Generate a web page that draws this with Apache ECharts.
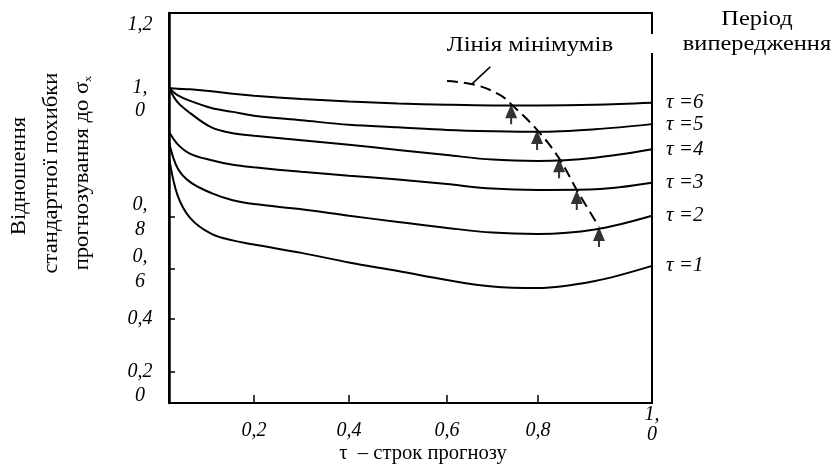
<!DOCTYPE html>
<html>
<head>
<meta charset="utf-8">
<script src="https://cdn.jsdelivr.net/npm/echarts@6/dist/echarts.min.js"></script>
<style>
  html, body { margin: 0; padding: 0; background: #fff; }
  #chart { width: 834px; height: 470px; }
</style>
</head>
<body>
<div id="chart"></div>
<script>
// forecast horizon (x) and the ratio of forecast std error to sigma_x for each lead period
const tau = [0, 0.02, 0.05, 0.1, 0.15, 0.2, 0.3, 0.4, 0.5, 0.6, 0.7, 0.8, 0.9, 1.0];
const lead1 = [0.892, 0.834, 0.796, 0.735, 0.710, 0.694, 0.662, 0.625, 0.592, 0.556, 0.530, 0.524, 0.552, 0.612];
const lead2 = [0.916, 0.876, 0.854, 0.837, 0.826, 0.820, 0.812, 0.802, 0.781, 0.758, 0.740, 0.735, 0.752, 0.802];
const lead3 = [0.932, 0.913, 0.898, 0.888, 0.881, 0.877, 0.870, 0.864, 0.858, 0.851, 0.844, 0.842, 0.843, 0.853];
const lead4 = [1.000, 0.978, 0.961, 0.939, 0.930, 0.926, 0.919, 0.912, 0.904, 0.896, 0.889, 0.887, 0.892, 0.905];
const lead5 = [1.000, 0.989, 0.980, 0.969, 0.963, 0.957, 0.950, 0.943, 0.939, 0.935, 0.933, 0.932, 0.936, 0.944];
const lead6 = [1.000, 0.999, 0.998, 0.995, 0.991, 0.988, 0.983, 0.979, 0.976, 0.974, 0.973, 0.973, 0.974, 0.977];
const leadNames = ['τ =1', 'τ =2', 'τ =3', 'τ =4', 'τ =5', 'τ =6'];

// minima of the curves (arrows) and the dashed "line of minima"
const minX = [0.741, 0.798, 0.837, 0.868, 0.907];
const minY = [0.975, 0.935, 0.891, 0.842, 0.762];
const minLineX = [0.600, 0.662, 0.717, 0.741, 0.798, 0.837, 0.868, 0.907];
const minLineY = [1.022, 1.010, 0.989, 0.975, 0.935, 0.891, 0.842, 0.762];
const leaderX = [0.655, 0.695];
const leaderY = [1.013, 1.067];

const xTicks = [0, 0.2, 0.4, 0.6, 0.8, 1.0];
const xTickLabels = ['', '0,2', '0,4', '0,6', '0,8', '1,\n0'];
const yTicks = [0, 0.2, 0.4, 0.6, 0.8, 1.0, 1.2];
const yTickLabels = ['0', '0,2', '0,4', '0,\n6', '0,\n8', '1,\n0', '1,2'];

// the original figure's axes are not uniform: where each tick sits (px from plot origin)
const plotW = 483, plotH = 390;
const xScaleKnots = [0, 85, 180, 278, 369, 483];
const yScaleKnots = [0, 31, 84, 134, 186, 315, 378];

function interp(v, from, to) {
  let i = 0;
  while (i < from.length - 2 && v > from[i + 1]) i++;
  const t = (v - from[i]) / (from[i + 1] - from[i]);
  return to[i] + t * (to[i + 1] - to[i]);
}
const wx = v => interp(v, xTicks, xScaleKnots);
const wy = v => interp(v, yTicks, yScaleKnots);

function labelFor(value, ticks, labels, warp) {
  for (let i = 0; i < ticks.length; i++) {
    if (Math.abs(warp(ticks[i]) - value) < 1e-6) return labels[i];
  }
  return '';
}

const serif = 'Liberation Serif';
const labelStyle = { fontFamily: serif, fontStyle: 'italic', fontSize: 20, color: '#000' };

const leads = [lead1, lead2, lead3, lead4, lead5, lead6];
const curveSeries = leads.map((vals, k) => ({
  name: leadNames[k],
  type: 'line',
  smooth: 0.35,
  symbol: 'none',
  lineStyle: { color: '#000', width: 2 },
  data: tau.map((t, i) => [wx(t), wy(vals[i])]),
  endLabel: {
    show: true,
    distance: 14,
    formatter: leadNames[k],
    ...labelStyle,
    fontSize: 21
  },
  z: 3
}));

const arrowPath = 'path://M6,0 L12,14 L0,14 Z M5,13 L7,13 L7,20 L5,20 Z';

function titleText(x, y, text, scale, rotation, extra) {
  return {
    type: 'text', x: x, y: y, rotation: rotation || 0, scaleX: scale,
    style: Object.assign({
      text: text, fontFamily: serif, fontSize: 20, fill: '#000',
      textAlign: 'center', textVerticalAlign: 'middle'
    }, extra || {})
  };
}

const chart = echarts.init(document.getElementById('chart'));
chart.setOption({
  animation: false,
  backgroundColor: '#fff',
  grid: {
    left: 169, top: 13, width: plotW, height: plotH,
    show: true, borderColor: '#000', borderWidth: 2, backgroundColor: 'transparent'
  },
  xAxis: {
    type: 'value', min: 0, max: plotW,
    axisLine: { show: true, onZero: false, lineStyle: { color: '#000', width: 1.5 } },
    axisTick: {
      show: true, inside: true, length: 8,
      customValues: xTicks.slice(1, 5).map(wx),
      lineStyle: { color: '#000', width: 1.5 }
    },
    axisLabel: {
      customValues: xTicks.map(wx),
      margin: 2,
      ...labelStyle,
      lineHeight: 20,
      formatter: v => {
        const s = labelFor(v, xTicks, xTickLabels, wx);
        return s.indexOf('\n') >= 0 ? s : '{n|' + s + '}';
      },
      rich: { n: { ...labelStyle, lineHeight: 36, verticalAlign: 'bottom' } }
    },
    splitLine: { show: false }
  },
  yAxis: {
    type: 'value', min: 0, max: plotH,
    axisLine: { show: true, onZero: false, lineStyle: { color: '#000', width: 2.5 } },
    axisTick: {
      show: true, inside: true, length: 6,
      customValues: yTicks.slice(1, 5).map(wy),
      lineStyle: { color: '#000', width: 1.5 }
    },
    axisLabel: {
      customValues: yTicks.map(wy),
      margin: 29,
      align: 'center',
      ...labelStyle,
      lineHeight: 25,
      formatter: v => {
        const s = labelFor(v, yTicks, yTickLabels, wy);
        if (s === '1,\n0') return '{p|1,}\n{q|0}';
        if (s === '0') return '{z|0}';
        return s;
      },
      rich: {
        p: { ...labelStyle, lineHeight: 45, verticalAlign: 'bottom' },
        q: { ...labelStyle, lineHeight: 25 },
        z: { ...labelStyle, lineHeight: 34, verticalAlign: 'top' }
      }
    },
    splitLine: { show: false }
  },
  series: [
    ...curveSeries,
    {
      name: 'Лінія мінімумів',
      type: 'line',
      smooth: 0.4,
      symbol: 'none',
      lineStyle: { color: '#000', width: 2, type: [11, 6] },
      data: minLineX.map((x, i) => [wx(x), wy(minLineY[i])]),
      z: 4
    },
    {
      type: 'line',
      symbol: 'none',
      lineStyle: { color: '#000', width: 1.5 },
      data: leaderX.map((x, i) => [wx(x), wy(leaderY[i])]),
      z: 4
    },
    {
      type: 'scatter',
      symbol: arrowPath,
      symbolSize: [12, 20],
      symbolOffset: [0, '50%'],
      itemStyle: { color: '#000' },
      data: minX.map((x, i) => [wx(x), wy(minY[i])]),
      z: 5
    }
  ],
  graphic: [
    { type: 'rect', shape: { x: 647, y: 34, width: 10, height: 19 }, style: { fill: '#fff' }, z: 100 },
    titleText(530, 46, 'Лінія мінімумів', 1.24),
    titleText(757, 32, 'Період\nвипередження', 1.22, 0, { lineHeight: 25 }),
    titleText(423, 454, 'τ  – строк прогнозу', 1.03),
    titleText(20, 176, 'Відношення', 1.13, Math.PI / 2),
    titleText(52, 173, 'стандартної похибки', 1.13, Math.PI / 2),
    {
      type: 'text', x: 83, y: 173, rotation: Math.PI / 2, scaleX: 1.13,
      style: {
        text: '{a|прогнозування до σ}{s|x}',
        textAlign: 'center', textVerticalAlign: 'middle',
        rich: {
          a: { fontFamily: serif, fontSize: 20, color: '#000' },
          s: { fontFamily: serif, fontSize: 11, color: '#000', padding: [10, 0, 0, 0] }
        }
      }
    }
  ]
});
</script>
</body>
</html>
